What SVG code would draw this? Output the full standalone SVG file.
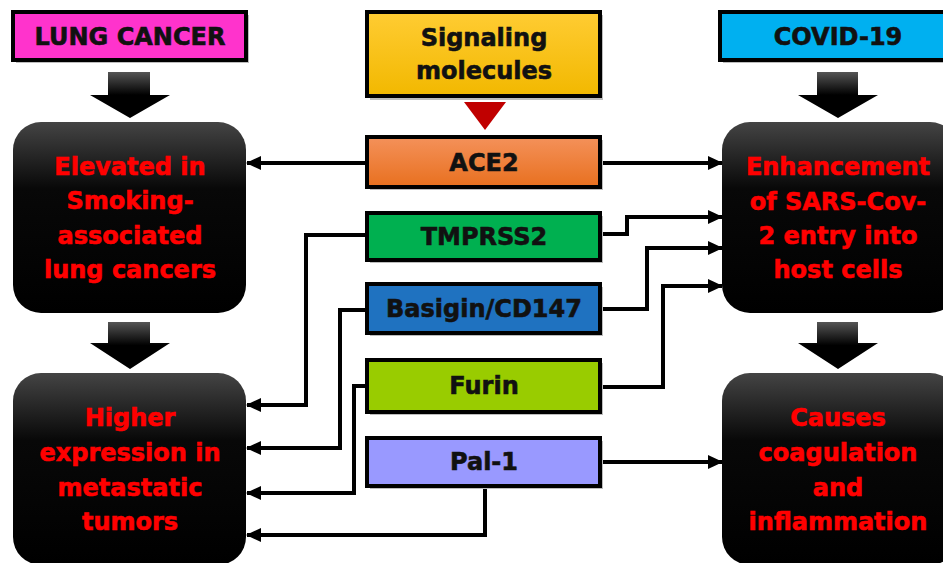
<svg xmlns="http://www.w3.org/2000/svg" width="943" height="563" viewBox="0 0 943 563">
<defs>
<linearGradient id="gBlack" x1="0" y1="0" x2="0" y2="1">
<stop offset="0" stop-color="#444"/><stop offset="0.35" stop-color="#080808"/><stop offset="1" stop-color="#000"/>
</linearGradient>
<linearGradient id="gArrow" x1="0" y1="0" x2="0" y2="1">
<stop offset="0" stop-color="#555"/><stop offset="0.5" stop-color="#000"/><stop offset="1" stop-color="#000"/>
</linearGradient>
<linearGradient id="gYellow" x1="0" y1="0" x2="0" y2="1">
<stop offset="0" stop-color="#FFCC33"/><stop offset="1" stop-color="#F2B800"/>
</linearGradient>
<linearGradient id="gOrange" x1="0" y1="0" x2="0" y2="1">
<stop offset="0" stop-color="#F4915A"/><stop offset="1" stop-color="#E8701F"/>
</linearGradient>
<marker id="ah" markerUnits="userSpaceOnUse" markerWidth="16" markerHeight="14" refX="14" refY="7" orient="auto">
<path d="M0,0 L15,7 L0,14 Z" fill="#000"/>
</marker>
</defs>
<style>
.hdr{stroke:#000;stroke-width:4}
.shadow{fill:#bdbdbd}
.lbl{font-family:"DejaVu Sans",sans-serif;font-weight:bold;font-size:24px;fill:#111;stroke:#111;stroke-width:0.6;text-anchor:middle}
.red{font-family:"DejaVu Sans",sans-serif;font-weight:bold;font-size:24px;fill:#FF0000;stroke:#FF0000;stroke-width:0.6;text-anchor:middle}
.blk{fill:url(#gBlack)}
.barrow{fill:url(#gArrow)}
.conn{fill:none;stroke:#000;stroke-width:4;marker-end:url(#ah)}
</style>

<g id="lung-cancer">
<rect class="shadow" x="16" y="15" width="233" height="48"/>
<rect class="hdr" x="13" y="12" width="233" height="48" fill="#FF33CC"/>
<text class="lbl" x="130" y="45">LUNG CANCER</text>
</g>

<g id="signaling">
<rect class="shadow" x="370" y="15" width="233" height="85"/>
<rect class="hdr" x="367" y="12" width="233" height="84" fill="url(#gYellow)"/>
<text class="lbl" x="484" y="46">Signaling</text>
<text class="lbl" x="484" y="79">molecules</text>
<path d="M464,102 L506,102 L485,130 Z" fill="#C00000"/>
</g>

<g id="covid">
<rect class="shadow" x="723" y="15" width="240" height="48"/>
<rect class="hdr" x="720" y="12" width="240" height="48" fill="#00B0F0"/>
<text class="lbl" x="838" y="45">COVID-19</text>
</g>

<g id="arrows-down">
<path class="barrow" d="M108,72 L150,72 L150,95 L170,95 L130,118 L90,95 L108,95 Z"/>
<path class="barrow" d="M817,72 L858,72 L858,95 L878,95 L838,118 L798,95 L817,95 Z"/>
<path class="barrow" d="M108,322 L150,322 L150,343 L170,343 L130,369 L90,343 L108,343 Z"/>
<path class="barrow" d="M817,322 L858,322 L858,343 L878,343 L838,369 L798,343 L817,343 Z"/>
</g>

<g id="elevated">
<rect class="blk" x="13" y="122" width="233" height="191" rx="28"/>
<text class="red" x="130" y="175">Elevated in</text>
<text class="red" x="130" y="209">Smoking-</text>
<text class="red" x="130" y="244">associated</text>
<text class="red" x="130" y="278">lung cancers</text>
</g>

<g id="higher">
<rect class="blk" x="13" y="373" width="233" height="192" rx="28"/>
<text class="red" x="130" y="426">Higher</text>
<text class="red" x="130" y="461">expression in</text>
<text class="red" x="130" y="496">metastatic</text>
<text class="red" x="130" y="530">tumors</text>
</g>

<g id="enhancement">
<rect class="blk" x="722" y="122" width="236" height="191" rx="28"/>
<text class="red" x="838" y="175">Enhancement</text>
<text class="red" x="838" y="210">of SARS-Cov-</text>
<text class="red" x="838" y="244">2 entry into</text>
<text class="red" x="838" y="278">host cells</text>
</g>

<g id="causes">
<rect class="blk" x="722" y="373" width="236" height="192" rx="28"/>
<text class="red" x="838" y="426">Causes</text>
<text class="red" x="838" y="461">coagulation</text>
<text class="red" x="838" y="496">and</text>
<text class="red" x="838" y="530">inflammation</text>
</g>

<g id="connectors">
<path class="conn" d="M367,163 L247,163"/>
<path class="conn" d="M600,163 L722,163"/>
<path class="conn" d="M367,235 L306,235 L306,405 L247,405"/>
<path class="conn" d="M600,234 L627,234 L627,217 L722,217"/>
<path class="conn" d="M367,310 L340,310 L340,448 L247,448"/>
<path class="conn" d="M600,309 L647,309 L647,248 L722,248"/>
<path class="conn" d="M367,386 L354,386 L354,493 L247,493"/>
<path class="conn" d="M600,387 L663,387 L663,286 L722,286"/>
<path class="conn" d="M600,462 L722,462"/>
<path class="conn" d="M485,486 L485,535 L247,535"/>
</g>

<g id="ace2">
<rect class="shadow" x="370" y="140" width="233" height="50"/>
<rect class="hdr" x="367" y="137" width="233" height="50" fill="url(#gOrange)"/>
<text class="lbl" x="484" y="171">ACE2</text>
</g>
<g id="tmprss2">
<rect class="shadow" x="370" y="216" width="233" height="47"/>
<rect class="hdr" x="367" y="213" width="233" height="47" fill="#00B050"/>
<text class="lbl" x="484" y="245">TMPRSS2</text>
</g>
<g id="basigin">
<rect class="shadow" x="370" y="287" width="233" height="49"/>
<rect class="hdr" x="367" y="284" width="233" height="49" fill="#1F72C0"/>
<text class="lbl" x="484" y="317">Basigin/CD147</text>
</g>
<g id="furin">
<rect class="shadow" x="370" y="363" width="233" height="52"/>
<rect class="hdr" x="367" y="360" width="233" height="52" fill="#99CC00"/>
<text class="lbl" x="484" y="394">Furin</text>
</g>
<g id="pal1">
<rect class="shadow" x="370" y="441" width="233" height="48"/>
<rect class="hdr" x="367" y="438" width="233" height="48" fill="#9999FF"/>
<text class="lbl" x="484" y="470">Pal-1</text>
</g>
</svg>
